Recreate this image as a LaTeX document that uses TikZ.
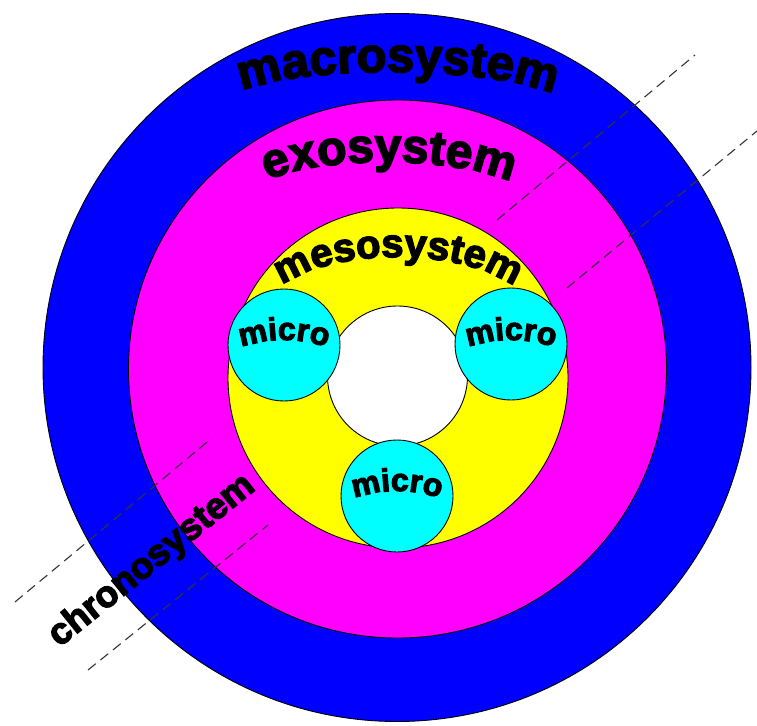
\documentclass[tikz,border=0pt]{standalone}
\usepackage{fontspec}
\newfontfamily\heavy[FakeBold=3.5]{Liberation Sans Bold}
\usetikzlibrary{decorations.text}
\newcommand\hvy[1]{\heavy\fontsize{#1}{#1}\selectfont}
\definecolor{macroblue}{RGB}{0,0,255}
\definecolor{exomag}{RGB}{255,0,255}
\definecolor{mesoyel}{RGB}{255,255,0}
\definecolor{microcyan}{RGB}{0,255,255}
\begin{document}
\begin{tikzpicture}[x=1pt,y=1pt,
  ring/.style={circle, draw=black, line width=0.9pt, inner sep=0pt, outer sep=0pt},
  sep/.style={draw=black!80, line width=1.1pt, dash pattern=on 10pt off 6pt},
  arctext/.style={decorate, decoration={text along path, text align=center, text={#1}}}
]
\useasboundingbox (0,0) rectangle (757,-725);
% rings
\node[ring, fill=macroblue, minimum size=708pt] (macro) at (397,-367.5) {};
\node[ring, fill=exomag, minimum size=538pt] (exo) at (397.5,-369) {};
\node[ring, fill=mesoyel, minimum size=340pt] (meso) at (398,-378) {};
\node[ring, fill=white, minimum size=140pt] (hole) at (397.5,-376) {};
\node[ring, fill=microcyan, minimum size=112pt] (m1) at (284,-345) {};
\node[ring, fill=microcyan, minimum size=112pt] (m2) at (511,-344) {};
\node[ring, fill=microcyan, minimum size=112pt] (m3) at (397,-496) {};
% dashed separators
\coordinate (a1) at (15,-602);  \coordinate (a2) at (212,-438);
\coordinate (a3) at (497,-220); \coordinate (a4) at (695,-55);
\coordinate (b1) at (88,-670);  \coordinate (b2) at (268,-525);
\coordinate (b3) at (567,-288); \coordinate (b4) at (757,-131);
\draw[sep] (a1) -- (a2);
\draw[sep] (a3) -- (a4);
\draw[sep] (b1) -- (b2);
\draw[sep] (b3) -- (b4);
% curved labels
\path[arctext={|\hvy{49}|macrosystem}] (229,-99) .. controls (274,-61) and (521,-64) .. (566,-102);
\path[arctext={|\hvy{48}|exosystem}] (252,-189) .. controls (300,-151.7) and (478,-153.7) .. (526,-191);
\path[arctext={|\hvy{40}|mesosystem}] (268,-300) .. controls (308.6,-242) and (487.4,-243) .. (528,-301);
\path[arctext={|\hvy{32}|micro}] (284,-470) ++(113:130) arc[start angle=113, end angle=67, radius=130];
\path[arctext={|\hvy{32}|micro}] (511,-470) ++(113:130) arc[start angle=113, end angle=67, radius=130];
\path[arctext={|\hvy{32}|micro}] (397,-621) ++(113:130) arc[start angle=113, end angle=67, radius=130];
% chronosystem
\node[rotate=38.8, font=\hvy{37}, inner sep=0pt] (chrono) at (152,-561) {chronosystem};
\end{tikzpicture}
\end{document}
